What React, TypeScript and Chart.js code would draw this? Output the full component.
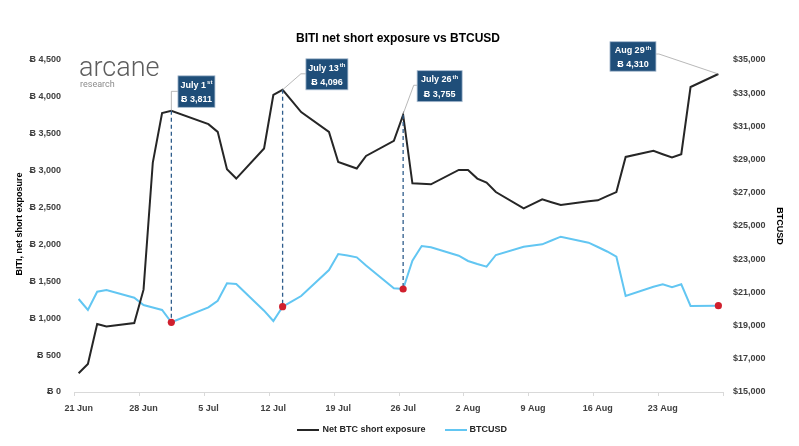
import React, { useEffect, useRef } from 'react';
import { Chart, registerables } from 'chart.js';

Chart.register(...registerables);

// ---------- DATA ----------
const DATES = [
  '2022-06-21', '2022-06-22', '2022-06-23', '2022-06-24', '2022-06-27', '2022-06-28', '2022-06-29', '2022-06-30',
  '2022-07-01', '2022-07-05', '2022-07-06', '2022-07-07', '2022-07-08', '2022-07-11', '2022-07-12', '2022-07-13',
  '2022-07-14', '2022-07-15', '2022-07-18', '2022-07-19', '2022-07-20', '2022-07-21', '2022-07-22', '2022-07-25',
  '2022-07-26', '2022-07-27', '2022-07-28', '2022-07-29', '2022-08-01', '2022-08-02', '2022-08-03', '2022-08-04',
  '2022-08-05', '2022-08-08', '2022-08-09', '2022-08-10', '2022-08-11', '2022-08-12', '2022-08-15', '2022-08-16',
  '2022-08-17', '2022-08-18', '2022-08-19', '2022-08-22', '2022-08-23', '2022-08-24', '2022-08-25', '2022-08-26',
  '2022-08-29',
];

// Net BTC short exposure (BTC)
const BITI_SHORT = [
  254, 381, 921, 888, 934, 1387, 3110, 3781,
  3811, 3631, 3526, 3019, 2893, 3301, 4026, 4096,
  3945, 3794, 3526, 3118, 3074, 3030, 3200, 3404,
  3755, 2829, 2822, 2815, 3010, 3010, 2893, 2838,
  2710, 2489, 2550, 2611, 2572, 2534, 2585, 2598,
  2655, 2710, 3186, 3268, 3223, 3178, 3223, 4134,
  4310,
];

// BTCUSD price
const BTCUSD = [
  20602, 19940, 21042, 21144, 20681, 20241, 20090, 19940,
  19199, 20102, 20500, 21548, 21506, 19898, 19277, 20138,
  20460, 20783, 22349, 23313, 23223, 23114, 22620, 21247,
  21205, 22910, 23795, 23717, 23211, 22892, 22711, 22548,
  23253, 23753, 23825, 23897, 24126, 24356, 23994, 23735,
  23464, 23150, 20783, 21343, 21488, 21307, 21488, 20181,
  20199,
];

const X_TICK_LABELS = ['21 Jun', '28 Jun', '5 Jul', '12 Jul', '19 Jul', '26 Jul', '2 Aug', '9 Aug', '16 Aug', '23 Aug'];

const HIGHLIGHT_DATES = ['2022-07-01', '2022-07-13', '2022-07-26', '2022-08-29'];
const HIGHLIGHT_TITLES = ['July 1', 'July 13', 'July 26', 'Aug 29'];
const HIGHLIGHT_SUPS = ['st', 'th', 'th', 'th'];

const TITLE = 'BITI net short exposure vs BTCUSD';
const SERIES_NAMES = ['Net BTC short exposure', 'BTCUSD'];
const LEFT_AXIS_TITLE = 'BITI, net short exposure';
const RIGHT_AXIS_TITLE = 'BTCUSD';

// ---------- STYLE / LAYOUT ----------
const FONT = '"Liberation Sans", Arial, Helvetica, sans-serif';
const BLACK = '#262626';
const BLUE = '#62C6F2';
const RED = '#D0202E';
const BOX = '#1F4E79';
const TEXT = '#404040';

// annotation layout, relative to the black point of each highlighted date
const ANN_LAYOUT = [
  { box: [6.6, -35, 37, 31.5], conn: [[0, 0], [0, -19.5], [6.6, -19.5]], drop: true },
  { box: [23.3, -31, 42, 31], conn: [[0, 0], [18.3, -16], [23.3, -16]], drop: true },
  { box: [14, -44.3, 45, 31], conn: [[0, -1], [10.6, -29.7], [14, -29.7]], drop: true },
  { box: [-108.4, -32.3, 46, 29.5], conn: [[0, 0], [-59.4, -20], [-62.4, -20]], drop: false },
];

const t0 = Date.parse(DATES[0] + 'T00:00:00Z');
const dayIndex = (d: string) => Math.round((Date.parse(d + 'T00:00:00Z') - t0) / 86400000);
const DAYS = DATES.map(dayIndex);

const fmtBTC = (v: number) => 'Ƀ ' + Math.round(v).toLocaleString('en-US');
const fmtUSD = (v: number) => '$' + Math.round(v).toLocaleString('en-US');

const decorPlugin = {
  id: 'decor',
  afterDatasetsDraw(chart: any) {
    const ctx = chart.ctx;
    const xs = chart.scales.x, yl = chart.scales.yL, yr = chart.scales.yR;
    ctx.save();
    HIGHLIGHT_DATES.forEach((d, k) => {
      const i = DATES.indexOf(d);
      const px = xs.getPixelForValue(DAYS[i]);
      const pyB = yl.getPixelForValue(BITI_SHORT[i]);
      const pyU = yr.getPixelForValue(BTCUSD[i]);
      if (ANN_LAYOUT[k].drop) {
        ctx.beginPath();
        ctx.setLineDash([4, 3]);
        ctx.strokeStyle = '#2F5D8C';
        ctx.lineWidth = 1.3;
        ctx.moveTo(px, pyB);
        ctx.lineTo(px, pyU);
        ctx.stroke();
        ctx.setLineDash([]);
      }
      ctx.beginPath();
      ctx.fillStyle = RED;
      ctx.arc(px, pyU, 3.6, 0, Math.PI * 2);
      ctx.fill();
    });
    ctx.restore();
  },
  afterDraw(chart: any) {
    const ctx = chart.ctx;
    const xs = chart.scales.x, yl = chart.scales.yL;
    const area = chart.chartArea;
    ctx.save();

    // x tick marks (between categories)
    ctx.strokeStyle = '#D9D9D9';
    ctx.lineWidth = 1;
    for (let k = 0; k <= 10; k++) {
      const v = -0.5 + 7 * k;
      const px = Math.round(xs.getPixelForValue(v)) + 0.5;
      ctx.beginPath();
      ctx.moveTo(px, area.bottom);
      ctx.lineTo(px, area.bottom + 4);
      ctx.stroke();
    }

    // Title
    ctx.fillStyle = '#000';
    ctx.font = `bold 12px ${FONT}`;
    ctx.textAlign = 'center';
    ctx.textBaseline = 'middle';
    ctx.fillText(TITLE, 398, 39);

    // Logo
    ctx.textAlign = 'left';
    ctx.textBaseline = 'alphabetic';
    ctx.fillStyle = '#5E5E5E';
    ctx.font = `300 27px Roboto, ${FONT}`;
    ctx.fillText('arcane', 79, 75.5);
    ctx.fillStyle = '#8C8C8C';
    ctx.font = `9px Roboto, ${FONT}`;
    ctx.fillText('research', 80, 87);

    // Axis titles
    ctx.fillStyle = '#000';
    ctx.font = `bold 9px ${FONT}`;
    ctx.textAlign = 'center';
    ctx.textBaseline = 'middle';
    ctx.save();
    ctx.translate(20, 224);
    ctx.rotate(-Math.PI / 2);
    ctx.fillText(LEFT_AXIS_TITLE, 0, 0);
    ctx.restore();
    ctx.save();
    ctx.translate(779, 226);
    ctx.rotate(Math.PI / 2);
    ctx.fillText(RIGHT_AXIS_TITLE, 0, 0);
    ctx.restore();

    // Legend
    const ly = 430;
    ctx.lineWidth = 2;
    ctx.strokeStyle = BLACK;
    ctx.beginPath(); ctx.moveTo(297, ly); ctx.lineTo(319, ly); ctx.stroke();
    ctx.strokeStyle = BLUE;
    ctx.beginPath(); ctx.moveTo(445, ly); ctx.lineTo(467, ly); ctx.stroke();
    ctx.fillStyle = '#262626';
    ctx.font = `bold 9px ${FONT}`;
    ctx.textAlign = 'left';
    ctx.fillText(SERIES_NAMES[0], 322.5, ly);
    ctx.fillText(SERIES_NAMES[1], 469.5, ly);

    // Annotations
    HIGHLIGHT_DATES.forEach((d, k) => {
      const i = DATES.indexOf(d);
      const px = xs.getPixelForValue(DAYS[i]);
      const py = yl.getPixelForValue(BITI_SHORT[i]);
      const L = ANN_LAYOUT[k];
      // connector
      ctx.strokeStyle = '#A6A6A6';
      ctx.lineWidth = 0.8;
      ctx.beginPath();
      L.conn.forEach((p, j) => {
        if (j === 0) ctx.moveTo(px + p[0], py + p[1]);
        else ctx.lineTo(px + p[0], py + p[1]);
      });
      ctx.stroke();
      // box
      const [bx, by, bw, bh] = L.box;
      const x0 = px + bx, y0 = py + by;
      ctx.fillStyle = BOX;
      ctx.fillRect(x0, y0, bw, bh);
      ctx.strokeStyle = '#A9BCD0';
      ctx.lineWidth = 0.8;
      ctx.strokeRect(x0, y0, bw, bh);
      // text
      ctx.fillStyle = '#FFFFFF';
      ctx.textBaseline = 'middle';
      ctx.font = `bold 9px ${FONT}`;
      const main = HIGHLIGHT_TITLES[k];
      const sup = HIGHLIGHT_SUPS[k];
      const mw = ctx.measureText(main).width;
      ctx.font = `bold 6px ${FONT}`;
      const sw = ctx.measureText(sup).width;
      const total = mw + 1 + sw;
      const cx = x0 + bw / 2;
      ctx.textAlign = 'left';
      ctx.font = `bold 9px ${FONT}`;
      ctx.fillText(main, cx - total / 2, y0 + bh * 0.3);
      ctx.font = `bold 6px ${FONT}`;
      ctx.fillText(sup, cx - total / 2 + mw + 1, y0 + bh * 0.3 - 2.5);
      ctx.font = `bold 9px ${FONT}`;
      ctx.textAlign = 'center';
      ctx.fillText(fmtBTC(BITI_SHORT[i]), cx, y0 + bh * 0.76);
    });

    ctx.restore();
  },
};

export default function App() {
  const ref = useRef<HTMLCanvasElement | null>(null);

  useEffect(() => {
    document.body.style.margin = '0';
    const canvas = ref.current;
    if (!canvas) return;
    const chart = new Chart(canvas, {
      type: 'line',
      data: {
        datasets: [
          {
            label: SERIES_NAMES[0],
            data: DAYS.map((x, i) => ({ x, y: BITI_SHORT[i] })),
            borderColor: BLACK,
            borderWidth: 2,
            pointRadius: 0,
            tension: 0,
            yAxisID: 'yL',
          },
          {
            label: SERIES_NAMES[1],
            data: DAYS.map((x, i) => ({ x, y: BTCUSD[i] })),
            borderColor: BLUE,
            borderWidth: 2,
            pointRadius: 0,
            tension: 0,
            yAxisID: 'yR',
          },
        ],
      },
      options: {
        responsive: false,
        animation: false,
        devicePixelRatio: 1,
        layout: { padding: { top: 60, bottom: 0, left: 0, right: 0 } },
        plugins: {
          legend: { display: false },
          title: { display: false },
          tooltip: { enabled: false },
        },
        scales: {
          x: {
            type: 'linear',
            min: -0.5,
            max: 69.5,
            grid: { display: false, drawTicks: false },
            border: { display: true, color: '#D9D9D9', width: 1 },
            afterBuildTicks: (scale: any) => {
              scale.ticks = X_TICK_LABELS.map((_, k) => ({ value: k * 7 }));
            },
            afterFit: (scale: any) => { scale.height = 54; },
            ticks: {
              autoSkip: false,
              maxRotation: 0,
              padding: 11,
              color: TEXT,
              font: { family: FONT, size: 9, weight: 'bold' },
              callback: (_v: any, idx: number) => X_TICK_LABELS[idx],
            },
          },
          yL: {
            type: 'linear',
            position: 'left',
            min: 0,
            max: 4500,
            grid: { display: false, drawTicks: false },
            border: { display: false },
            afterFit: (scale: any) => { scale.width = 74; },
            ticks: {
              stepSize: 500,
              padding: 13,
              color: TEXT,
              font: { family: FONT, size: 9, weight: 'bold' },
              callback: (v: any) => fmtBTC(Number(v)),
            },
          },
          yR: {
            type: 'linear',
            position: 'right',
            min: 15000,
            max: 35000,
            grid: { display: false, drawTicks: false },
            border: { display: false },
            afterFit: (scale: any) => { scale.width = 76; },
            ticks: {
              stepSize: 2000,
              padding: 10,
              color: TEXT,
              font: { family: FONT, size: 9, weight: 'bold' },
              callback: (v: any) => fmtUSD(Number(v)),
            },
          },
        },
      },
      plugins: [decorPlugin],
    } as any);
    return () => chart.destroy();
  }, []);

  return (
    <div style={{ width: 799, height: 446, background: '#fff' }}>
      <canvas ref={ref} width={799} height={446} style={{ display: 'block', width: 799, height: 446 }} />
    </div>
  );
}
